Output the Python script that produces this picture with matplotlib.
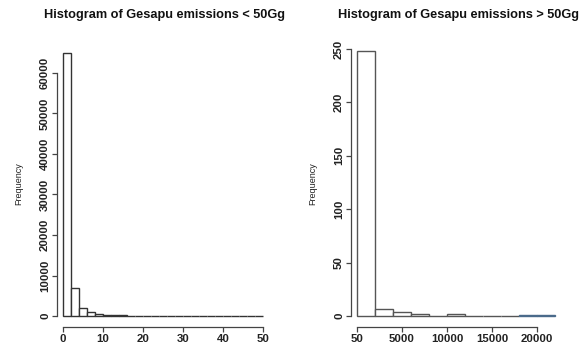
import numpy as np
import matplotlib
matplotlib.use("Agg")
import matplotlib.pyplot as plt

# left histogram: emissions < 50Gg, bins of width 2
left_edges = np.arange(0, 52, 2)
left_counts = [65000, 6900, 2000, 1100, 500, 300, 200, 150, 120, 90, 70, 60, 40,
               0, 0, 0, 0, 0, 0, 0, 0, 0, 0, 0, 0]
left_yticks = [0, 10000, 20000, 30000, 40000, 50000, 60000]
left_xticks = [0, 10, 20, 30, 40, 50]

# right histogram: emissions > 50Gg, bins of width 2000
right_edges = np.arange(0, 24000, 2000)
right_counts = [248, 7, 4, 2, 0, 2, 0, 0, 0, 1, 1]
right_yticks = [0, 50, 100, 150, 200, 250]
right_xticks = [0, 5000, 10000, 15000, 20000]
right_xlabels = ["50", "5000", "10000", "15000", "20000"]

plt.rcParams['font.family'] = ['Liberation Sans', 'DejaVu Sans']

fig = plt.figure(figsize=(5.81, 3.47), dpi=100)
W, H = 581.0, 347.0

def make_axes(left_px, right_px, top_px, bottom_px):
    return fig.add_axes([left_px / W, 1 - bottom_px / H,
                         (right_px - left_px) / W, (bottom_px - top_px) / H])

def style(ax, xticks, yticks, xlabels=None):
    for s in ['top', 'right']:
        ax.spines[s].set_visible(False)
    for s in ['left', 'bottom']:
        ax.spines[s].set_color('#444444')
        ax.spines[s].set_linewidth(0.9)
    ax.spines['left'].set_bounds(yticks[0], yticks[-1])
    ax.spines['bottom'].set_bounds(xticks[0], xticks[-1])
    ax.set_xticks(xticks)
    ax.set_yticks(yticks)
    if xlabels is not None:
        ax.set_xticklabels(xlabels)
    ax.set_yticklabels([str(t) for t in yticks], rotation=90, va='center')
    ax.tick_params(length=3.5, width=0.9, color='#444444', labelsize=8.2,
                   pad=1.5)
    for lab in ax.get_xticklabels() + ax.get_yticklabels():
        lab.set_fontweight('bold')
        lab.set_color('#222222')
    ax.set_ylabel("Frequency", fontsize=6.5, labelpad=12, color='#222222')

# left panel
ax1 = make_axes(57, 269, 40, 327)
ax1.bar(left_edges[:-1], left_counts, width=np.diff(left_edges), align='edge',
        facecolor='white', edgecolor='#333333', linewidth=1.0)
ax1.set_xlim(-1.5, 51.5)
ax1.set_ylim(-2716, 68148)
style(ax1, left_xticks, left_yticks)
fig.text(165 / W, 1 - 15 / H, "Histogram of Gesapu emissions < 50Gg",
         ha='center', va='center', fontsize=9.2, fontweight='bold', color='#111111')

# right panel
ax2 = make_axes(351, 563, 40, 327)
right_colors = ['#555555'] * 9 + ['#4a6a8a', '#4a6a8a']
ax2.bar(right_edges[:-1], right_counts, width=np.diff(right_edges), align='edge',
        facecolor='white', edgecolor=right_colors, linewidth=1.0)
ax2.set_xlim(-667, 22889)
ax2.set_ylim(-10.3, 258.4)
style(ax2, right_xticks, right_yticks, right_xlabels)
fig.text(459 / W, 1 - 15 / H, "Histogram of Gesapu emissions > 50Gg",
         ha='center', va='center', fontsize=9.2, fontweight='bold', color='#111111')

fig.savefig("out.png", dpi=100)
